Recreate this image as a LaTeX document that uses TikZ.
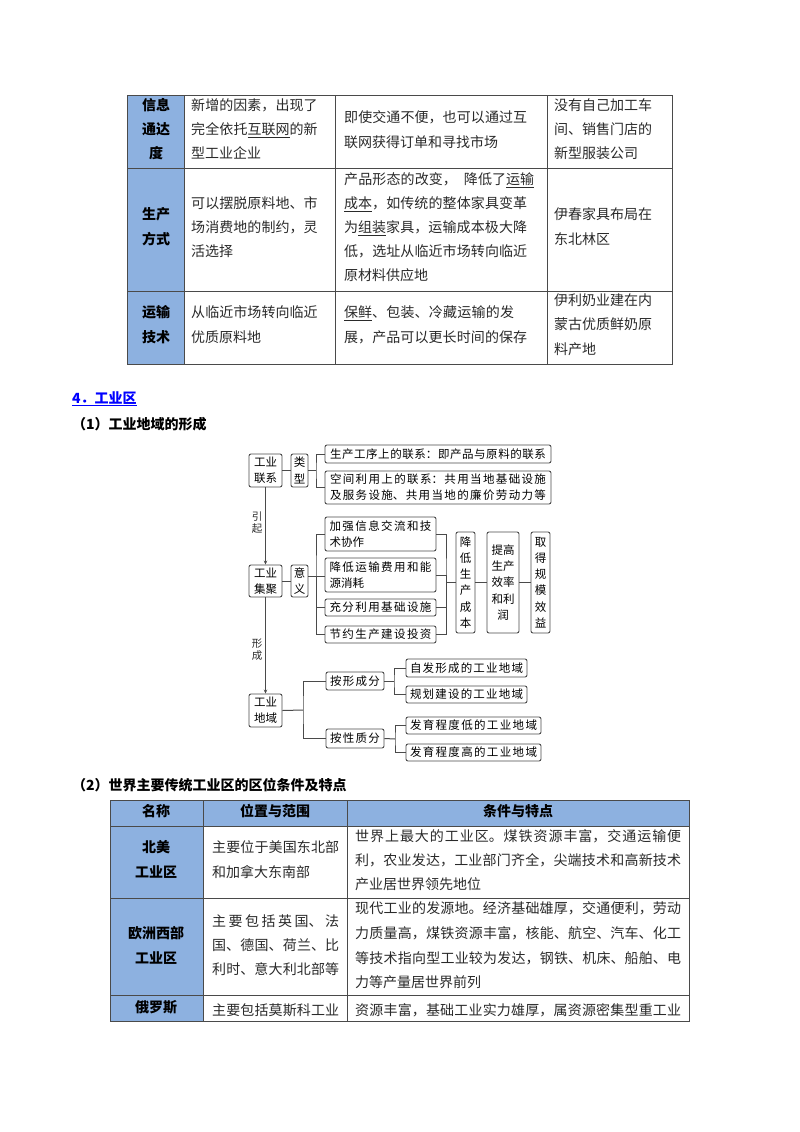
\documentclass[tikz,border=0pt]{standalone}
\usepackage{fontspec}
\setmainfont{Noto Sans CJK SC}
\usetikzlibrary{arrows.meta}
\XeTeXlinebreaklocale "zh"
\XeTeXlinebreakskip=0pt plus 8pt
\definecolor{hdr}{HTML}{8DB1E0}
\definecolor{rule}{HTML}{4A4A4A}
\definecolor{ink}{HTML}{2A2A2A}
\newcount\txtno
\tikzset{
  tline/.style={anchor=west,inner sep=0pt,text=ink,text height=12.3pt,text depth=1.7pt,font=\fontsize{14}{16}\selectfont},
  tcen/.style={anchor=center,inner sep=0pt,text=black,text height=12.3pt,text depth=1.7pt,font=\fontsize{14}{16}\bfseries\selectfont},
  bx/.style={draw=rule,line width=0.9pt,rounded corners=2pt,fill=white,inner sep=0pt,align=center,text=black,font=\fontsize{11.5}{16.2}\selectfont},
  conn/.style={draw=rule,line width=1pt},
  flow/.style={conn,-{Stealth[length=4pt,width=3.5pt]}},
  small/.style={inner sep=0pt,text=ink,font=\fontsize{10.5}{12}\selectfont},
  grid/.style={draw=rule,line width=1pt}
}
% a line stretched to an exact width: a paragraph whose last line is justified
\newcommand\FT[2]{\vbox{\hsize=#1pt\parindent=0pt\parfillskip=0pt\leftskip=0pt\rightskip=0pt\tolerance=9999\hbadness=10000\hfuzz=2pt #2\par}}
\newcommand\TT[3]{\global\advance\txtno 1 \node[tline] (txt\the\txtno) at (#1,#2) {#3};}
\newcommand\TF[4]{\global\advance\txtno 1 \node[tline] (txt\the\txtno) at (#1,#2) {\FT{#3}{#4}};}
\newcommand\TC[3]{\global\advance\txtno 1 \node[tcen] (txt\the\txtno) at (#1,#2) {#3};}
\newcommand\BX[6]{%
  \pgfmathsetmacro\bw{#4-#2}\pgfmathsetmacro\bh{#5-#3}%
  \pgfmathsetmacro\cx{(#2+#4)/2}\pgfmathsetmacro\cy{(#3+#5)/2}%
  \node[bx,minimum width=\bw pt,minimum height=\bh pt] (#1) at (\cx,\cy) {#6};}
\newcommand\FL[2]{\hbox to #1pt{#2\hfil}}
\begin{document}
\begin{tikzpicture}[x=1pt,y=-1pt]
\fill[white] (0,0) rectangle (800,1132);
\useasboundingbox (0,0) rectangle (800,1132);

% ---------- table 1
\fill[hdr] (127,95) rectangle (184,364);
\draw[grid] (127,95) rectangle (672,364);
\foreach \x in {184,335,547} \draw[grid] (\x,95) -- (\x,364);
\foreach \y in {168.5,291} \draw[grid] (127,\y) -- (672,\y);

\TC{156}{105}{信息}\TC{156}{129.5}{通达}\TC{156}{153.5}{度}
\TC{156}{214}{生产}\TC{156}{239}{方式}
\TC{156}{312}{运输}\TC{156}{337}{技术}

\TF{191}{105}{126.5}{新增的因素，出现了}
\TF{191}{129.5}{126.5}{完全依托\underline{互联网}的新}
\TT{191}{153.5}{型工业企业}
\TF{344}{117}{183}{即使交通不便，也可以通过互}
\TT{344}{142}{联网获得订单和寻找市场}
\TT{554}{105}{没有自己加工车}
\TT{554}{129.5}{间、销售门店的}
\TT{554}{153.5}{新型服装公司}

\TF{191}{203}{126.5}{可以摆脱原料地、市}
\TF{191}{227}{126.5}{场消费地的制约，灵}
\TT{191}{251}{活选择}
\TF{344}{179}{190}{产品形态的改变，\hskip 7pt 降低了\underline{运输}}
\TF{344}{203}{183}{\underline{成本}，如传统的整体家具变革}
\TF{344}{227}{183}{为\underline{组装}家具，运输成本极大降}
\TF{344}{251}{183}{低，选址从临近市场转向临近}
\TT{344}{275}{原材料供应地}
\TT{554}{214}{伊春家具布局在}
\TT{554}{239}{东北林区}

\TF{191}{312}{126.5}{从临近市场转向临近}
\TT{191}{337}{优质原料地}
\TF{344}{312}{170}{\underline{保鲜}、包装、冷藏运输的发}
\TF{344}{337}{183}{展，产品可以更长时间的保存}
\TT{554}{300}{伊利奶业建在内}
\TT{554}{324}{蒙古优质鲜奶原}
\TT{554}{349}{料产地}

% ---------- headings
\global\advance\txtno 1
\node[tline,text=blue,font=\fontsize{14}{16}\bfseries\selectfont] (txt\the\txtno) at (72,398) {\underline{4．工业区}};
\global\advance\txtno 1
\node[tline,text=black,font=\fontsize{14}{16}\bfseries\selectfont] (txt\the\txtno) at (72,424) {（1）工业地域的形成};
\global\advance\txtno 1
\node[tline,text=black,font=\fontsize{14}{16}\bfseries\selectfont] (txt\the\txtno) at (72,785) {（2）世界主要传统工业区的区位条件及特点};

% ---------- diagram
\BX{lianxi}{249}{454}{282}{487}{工业\\联系}
\BX{leixing}{291}{454}{308}{487}{类\\型}
\BX{t1}{325}{445}{551}{463}{\FT{216}{生产工序上的联系：即产品与原料的联系}}
\BX{t2}{325}{471}{551}{504}{\FT{216}{空间利用上的联系：共用当地基础设施}\\\FT{216}{及服务设施、共用当地的廉价劳动力等}}
\BX{jiju}{249}{565}{282}{597}{工业\\集聚}
\BX{yiyi}{291}{565}{308}{597}{意\\义}
\BX{m1}{325}{517}{436}{551}{\FT{102}{加强信息交流和技}\\\FL{102}{术协作}}
\BX{m2}{325}{558}{436}{592}{\FT{102}{降低运输费用和能}\\\FL{102}{源消耗}}
\BX{m3}{325}{599}{436}{616}{\FT{102}{充分利用基础设施}}
\BX{m4}{325}{626}{436}{643}{\FT{102}{节约生产建设投资}}
\BX{jiang}{456}{532}{475}{633}{降\\低\\生\\产\\成\\本}
\BX{tigao}{487}{532}{519}{633}{提高\\生产\\效率\\和利\\润}
\BX{qude}{531}{532}{550}{633}{取\\得\\规\\模\\效\\益}
\BX{diyu}{249}{694}{282}{727}{工业\\地域}
\BX{a1}{326}{672}{384}{690}{\FT{50}{按形成分}}
\BX{a2}{326}{729}{384}{748}{\FT{50}{按性质分}}
\BX{b1}{406}{659}{527}{677}{\FT{113}{自发形成的工业地域}}
\BX{b2}{406}{686}{527}{703}{\FT{113}{规划建设的工业地域}}
\BX{b3}{406}{717}{541}{734}{\FT{127}{发育程度低的工业地域}}
\BX{b4}{406}{744}{541}{761}{\FT{127}{发育程度高的工业地域}}

\node[small] (yin) at (257,517) {引};
\node[small] (qi) at (257,529) {起};
\node[small] (xing) at (257,644) {形};
\node[small] (cheng) at (257,656) {成};

\coordinate (jt) at (316,470.5);
\coordinate (jl) at (316,576);
\coordinate (jr) at (446,582);
\coordinate (jd) at (303,710);
\coordinate (jb) at (394,681);
\coordinate (jc) at (395,739);

\draw[flow] (lianxi.south) -- (jiju.north);
\draw[flow] (jiju.south) -- (diyu.north);
\draw[conn] (lianxi.east) -- (leixing.west);
\draw[conn] (leixing.east) -- (jt);
\draw[conn] (t1.west) -| (jt) |- (t2.west);
\draw[conn] (jiju.east) -- (yiyi.west);
\draw[conn] (yiyi.east |- jl) -- (m2.west |- jl);
\draw[conn] (m1.west) -| (jl) |- (m4.west);
\draw[conn] (m3.west) -| (jl);
\draw[conn] (m1.east) -| (jr) |- (m4.east);
\draw[conn] (m2.east) -| (jr);
\draw[conn] (m3.east) -| (jr);
\draw[conn] (jr) -- (jiang.west |- jr);
\draw[conn] (jiang.east |- jr) -- (tigao.west |- jr);
\draw[conn] (tigao.east |- jr) -- (qude.west |- jr);
\draw[conn] (diyu.east) -- (jd);
\draw[conn] (a1.west) -| (jd) |- (a2.west);
\draw[conn] (a1.east) -- (jb);
\draw[conn] (b1.west) -| (jb) |- (b2.west);
\draw[conn] (a2.east) -- (jc);
\draw[conn] (b3.west) -| (jc) |- (b4.west);

% ---------- table 2
\fill[hdr] (110,800) rectangle (689,826);
\fill[hdr] (110,826) rectangle (203,1021);
\draw[grid] (110,800) rectangle (689,1021);
\foreach \x in {203,347} \draw[grid] (\x,800) -- (\x,1021);
\foreach \y in {826,898,995} \draw[grid] (110,\y) -- (689,\y);

\TC{156}{811}{名称}\TC{275}{811}{位置与范围}\TC{518}{811}{条件与特点}
\TC{156}{847}{北美}\TC{156}{872}{工业区}
\TC{156}{933}{欧洲西部}\TC{156}{958}{工业区}
\TC{156}{1007}{俄罗斯}

\TF{212}{847}{127}{主要位于美国东北部}
\TT{212}{872}{和加拿大东南部}
\TF{212}{921}{127}{主要包括英国、法}
\TF{212}{945}{127}{国、德国、荷兰、比}
\TF{212}{969}{127}{利时、意大利北部等}
\TF{212}{1010}{127}{主要包括莫斯科工业}

\TF{355}{836}{326}{世界上最大的工业区。煤铁资源丰富，交通运输便}
\TF{355}{860}{326}{利，农业发达，工业部门齐全，尖端技术和高新技术}
\TT{355}{884}{产业居世界领先地位}
\TF{355}{908}{326}{现代工业的发源地。经济基础雄厚，交通便利，劳动}
\TF{355}{933}{326}{力质量高，煤铁资源丰富，核能、航空、汽车、化工}
\TF{355}{958}{326}{等技术指向型工业较为发达，钢铁、机床、船舶、电}
\TT{355}{982}{力等产量居世界前列}
\TF{355}{1010}{326}{资源丰富，基础工业实力雄厚，属资源密集型重工业}
\end{tikzpicture}
\end{document}
